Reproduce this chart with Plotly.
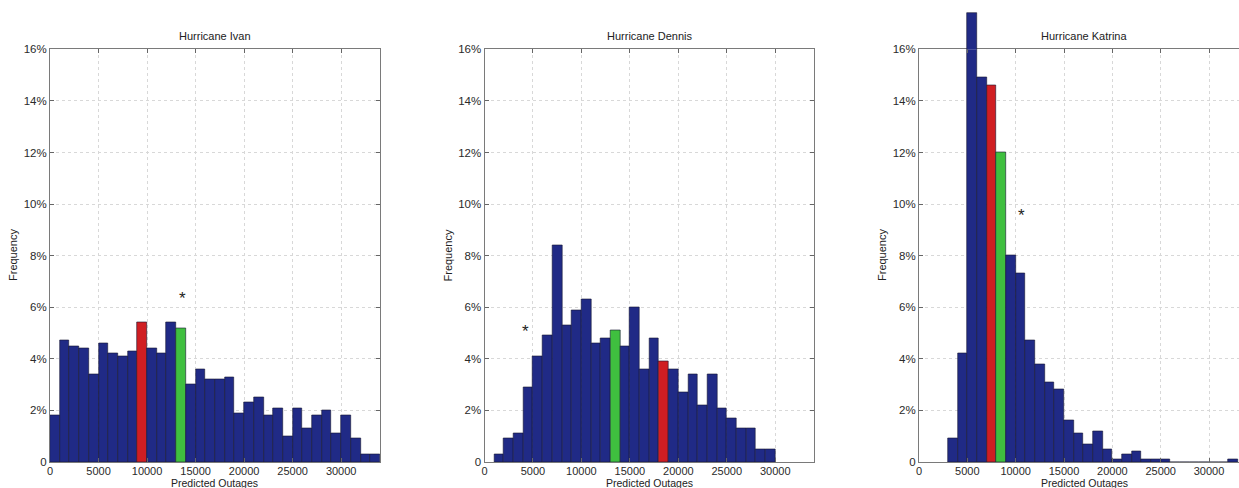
import plotly.graph_objects as go

# ---------------- data ----------------
bin_width = 1000

ivan_start = 0
ivan_freq = [1.8, 4.7, 4.5, 4.4, 3.4, 4.6, 4.2, 4.1, 4.3, 5.4, 4.4, 4.2, 5.4, 5.2,
             3.0, 3.6, 3.2, 3.2, 3.3, 1.9, 2.3, 2.5, 1.8, 2.1, 1.0, 2.1, 1.3, 1.8,
             2.0, 1.1, 1.8, 0.9, 0.3, 0.3]
ivan_red_bin = 9000
ivan_green_bin = 13000
ivan_actual = (13600, 6.5)

dennis_start = 1000
dennis_freq = [0.3, 0.9, 1.1, 2.9, 4.1, 4.9, 8.4, 5.3, 5.9, 6.3, 4.6, 4.8, 5.1, 4.5,
               6.0, 3.6, 4.8, 3.9, 3.6, 2.7, 3.4, 2.2, 3.4, 2.1, 1.7, 1.3, 1.3, 0.5, 0.5]
dennis_red_bin = 18000
dennis_green_bin = 13000
dennis_actual = (4200, 5.2)

katrina_start = 3000
katrina_freq = [0.9, 4.2, 17.4, 14.9, 14.6, 12.0, 8.0, 7.3, 4.7, 3.8, 3.1, 2.8, 1.6,
                1.1, 0.7, 1.2, 0.5, 0.1, 0.3, 0.4, 0.1, 0.1, 0.1, 0, 0, 0, 0, 0, 0, 0.1]
katrina_red_bin = 7000
katrina_green_bin = 8000
katrina_actual = (10600, 9.7)

titles = ["Hurricane Ivan", "Hurricane Dennis", "Hurricane Katrina"]
x_tick_vals = [0, 5000, 10000, 15000, 20000, 25000, 30000]
x_tick_text = ["0", "5000", "10000", "15000", "20000", "25000", "30000"]
y_tick_vals = [0, 2, 4, 6, 8, 10, 12, 14, 16]
y_tick_text = ["0", "2%", "4%", "6%", "8%", "10%", "12%", "14%", "16%"]
x_label = "Predicted Outages"
y_label = "Frequency"

# ---------------- style ----------------
BLUE = "#202a86"
RED = "#d01e22"
GREEN = "#3fbf3f"
FONT = "Liberation Sans, Arial, Helvetica, sans-serif"
W, H = 1239, 488

panels = [
    (ivan_start, ivan_freq, ivan_red_bin, ivan_green_bin, ivan_actual, (50, 380), 34000),
    (dennis_start, dennis_freq, dennis_red_bin, dennis_green_bin, dennis_actual, (484.5, 814), 34000),
    (katrina_start, katrina_freq, katrina_red_bin, katrina_green_bin, katrina_actual, (919, 1239), 33100),
]

y_top_px, y_bot_px = 49.3, 462
ydom = [(H - y_bot_px) / H, (H - y_top_px) / H]
px_per_pct = (y_bot_px - y_top_px) / 16.0

fig = go.Figure()
layout = dict(
    width=W, height=H, autosize=False,
    margin=dict(l=0, r=0, t=0, b=0, pad=0, autoexpand=False),
    paper_bgcolor="white", plot_bgcolor="white",
    showlegend=False, bargap=0,
    font=dict(family=FONT, size=11, color="#2a2a2a"),
    annotations=[],
)


def bar_trace(start, freq, red, green, xa, ya):
    xs = [start + i * bin_width + bin_width / 2 for i in range(len(freq))]
    cols = []
    for i in range(len(freq)):
        b = start + i * bin_width
        cols.append(RED if b == red else GREEN if b == green else BLUE)
    return go.Bar(x=xs, y=freq, width=bin_width, marker=dict(color=cols, line=dict(color="#151530", width=0.6)),
                  xaxis=xa, yaxis=ya, hoverinfo="skip")


for k, (start, freq, red, green, actual, (xl, xr), xmax) in enumerate(panels):
    n = k + 1
    xa, ya = f"x{n}", f"y{n}"
    fig.add_trace(bar_trace(start, freq, red, green, xa, ya))
    # actual outage marker (asterisk), placed in data coordinates
    layout["annotations"].append(dict(text="*", x=actual[0], y=actual[1], xref=xa, yref=ya,
                                      xanchor="center", yanchor="middle", yshift=-4, showarrow=False,
                                      font=dict(size=17, color="#222")))
    dom = [xl / W, min(xr / W, 1.0)]
    layout[f"xaxis{n}"] = dict(
        domain=dom, anchor=ya, range=[0, xmax], tickvals=x_tick_vals, ticktext=x_tick_text,
        ticks="inside", ticklen=4, tickcolor="#666", showline=True, linecolor="#7a7a7a", linewidth=1,
        mirror="ticks", showgrid=True, gridcolor="#d8d8d8", griddash="dot", gridwidth=1,
        zeroline=False, tickfont=dict(size=11, color="#2a2a2a"), fixedrange=True, automargin=False,
        ticklabelstandoff=-1,
    )
    layout[f"yaxis{n}"] = dict(
        domain=ydom, anchor=xa, range=[0, 16], tickvals=y_tick_vals, ticktext=y_tick_text,
        ticks="inside", ticklen=4, tickcolor="#666", showline=True, linecolor="#7a7a7a", linewidth=1,
        mirror=("ticks" if n < 3 else False), showgrid=True, gridcolor="#d8d8d8", griddash="dot",
        gridwidth=1, zeroline=False, tickfont=dict(size=11.5, color="#2a2a2a"), fixedrange=True,
        automargin=False,
    )
    cx = (dom[0] + (xl + 330) / W) / 2 if n == 3 else (dom[0] + dom[1]) / 2
    layout["annotations"].append(dict(text=titles[k], x=cx, y=(H - 36) / H, xref="paper", yref="paper",
                                      xanchor="center", yanchor="middle", showarrow=False,
                                      font=dict(size=11, color="#222")))
    layout["annotations"].append(dict(text=x_label, x=cx, y=0, xref="paper", yref="paper",
                                      xanchor="center", yanchor="bottom", yshift=-3, showarrow=False,
                                      font=dict(size=10.5, color="#222")))
    layout["annotations"].append(dict(text=y_label, x=dom[0], xshift=-37, y=(H - 255) / H,
                                      xref="paper", yref="paper", xanchor="center", yanchor="middle",
                                      textangle=-90, showarrow=False, font=dict(size=11, color="#222")))

# overflow of the tallest Katrina bar above the axes box (drawn with same scale)
over_top = 16 + y_top_px / px_per_pct
fig.add_trace(bar_trace(katrina_start, katrina_freq, katrina_red_bin, katrina_green_bin, "x4", "y4"))
layout["xaxis4"] = dict(domain=layout["xaxis3"]["domain"], anchor="y4", range=[0, 33100], visible=False,
                        fixedrange=True, automargin=False)
layout["yaxis4"] = dict(domain=[ydom[1], 1.0], anchor="x4", range=[16, over_top], visible=False,
                        fixedrange=True, automargin=False)

fig.update_layout(**layout)
fig.write_html("out.html", config={"displayModeBar": False, "responsive": False},
               post_script="document.body.style.margin='0';document.body.style.overflow='hidden';"
                           "document.documentElement.style.overflow='hidden';")
